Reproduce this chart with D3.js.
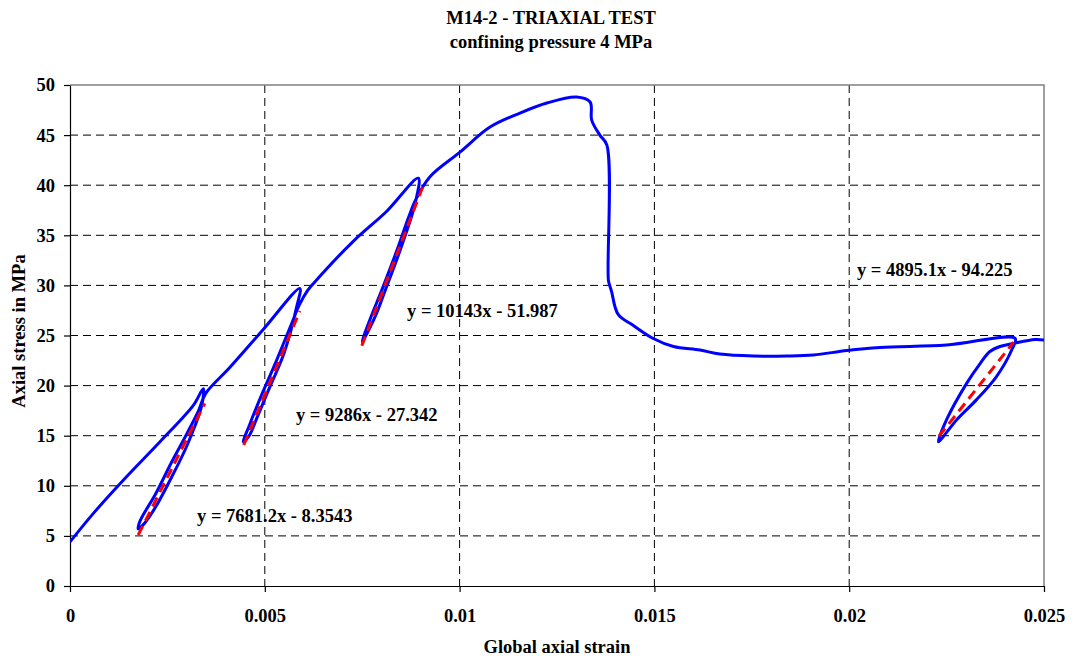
<html>
<head>
<style>
body { margin: 0; background: #fff; }
text { font-family: "Liberation Serif", "Times New Roman", serif; font-weight: bold; }
.grid line { stroke: #000; stroke-dasharray: 8,5; stroke-width: 1; }
.axis path, .axis line { stroke: #000; stroke-width: 1.2; }
.axis text { font-size: 18.5px; fill: #000; }
</style>
</head>
<body>
<div id="vis"></div>
<script src="https://cdn.jsdelivr.net/npm/d3@7"></script>
<script>
// measured curve: [strain, stress]
var strain = [0, 0.0006, 0.00145, 0.00231, 0.00317, 0.00342,
  0.00338, 0.003, 0.0026, 0.0022, 0.0019, 0.00175,
  0.0018, 0.0022, 0.0026, 0.003, 0.0033, 0.00348,
  0.0041, 0.00496, 0.0059,
  0.00582, 0.0055, 0.0051, 0.0048, 0.0046, 0.00445,
  0.0046, 0.0049, 0.0053, 0.0057, 0.00588,
  0.0061, 0.00625, 0.00727, 0.00813, 0.00894,
  0.00886, 0.0085, 0.0081, 0.0078, 0.0075,
  0.0077, 0.008, 0.0084, 0.0087, 0.00888,
  0.00924, 0.01001, 0.01078, 0.01155, 0.01224, 0.013, 0.01335, 0.01339, 0.0136, 0.01378,
  0.01382, 0.01386, 0.0139, 0.01407, 0.01446, 0.01497, 0.01549, 0.01617, 0.01668, 0.01754,
  0.0184, 0.01908, 0.01994, 0.02079, 0.0225, 0.02426,
  0.02417, 0.02378, 0.02327, 0.02276, 0.02229,
  0.0225, 0.02301, 0.02336, 0.02361, 0.02387, 0.02421, 0.02477, 0.025];
var stress = [4.4, 7.25, 10.9, 14.4, 18.06, 19.7,
  18.0, 14.0, 10.8, 7.9, 6.2, 5.7,
  6.5, 9.2, 12.3, 15.2, 17.5, 19.2,
  21.8, 25.6, 29.7,
  27.9, 23.3, 19.6, 16.8, 15.0, 14.4,
  16.0, 18.9, 22.5, 26.3, 28.0,
  29.5, 30.2, 34.4, 37.4, 40.7,
  38.2, 33.8, 29.6, 26.6, 24.4,
  26.6, 29.5, 33.6, 36.9, 38.6,
  40.85, 43.3, 45.8, 47.2, 48.2, 48.8, 48.3, 46.5, 45.0, 44.0,
  30.5, 29.9, 29.4, 27.1, 26.0, 24.7, 23.9, 23.55, 23.15, 22.95,
  22.95, 23.05, 23.5, 23.8, 24.05, 24.7,
  23.55, 20.9, 18.6, 16.6, 14.4,
  16.6, 20.2, 22.2, 23.4, 23.9, 24.2, 24.6, 24.55];

// linear fits of the unload/reload loops
var fitSlope = [7681.2, 9286, 10143, 4895.1];
var fitIntercept = [-8.3543, -27.342, -51.987, -94.225];
var fitFrom = [0.00175, 0.00446, 0.00749, 0.0223];
var fitTo = [0.00346, 0.0059, 0.00906, 0.02422];
var fitLabels = ["y = 7681.2x - 8.3543", "y = 9286x - 27.342", "y = 10143x - 51.987", "y = 4895.1x - 94.225"];
var labelPos = [[0.00326, 6.4], [0.00580, 16.5], [0.00865, 26.85], [0.0202, 30.9]];

var xTicks = [0, 0.005, 0.01, 0.015, 0.02, 0.025];
var yTicks = [0, 5, 10, 15, 20, 25, 30, 35, 40, 45, 50];

var margin = {top: 85, right: 33, bottom: 72, left: 70},
    width = 1077 - margin.left - margin.right,
    height = 658 - margin.top - margin.bottom;

var svg = d3.select("#vis").append("svg")
    .attr("width", 1077)
    .attr("height", 658);

var g = svg.append("g")
    .attr("transform", "translate(" + margin.left + "," + margin.top + ")");

var x = d3.scaleLinear().domain([0, 0.025]).range([0, width]);
var y = d3.scaleLinear().domain([0, 50]).range([height, 0]);

// grid
g.append("g").attr("class", "grid")
  .selectAll("line").data(yTicks.slice(1, -1)).enter().append("line")
    .attr("x1", 0).attr("x2", width)
    .attr("y1", function(d) { return y(d); }).attr("y2", function(d) { return y(d); });
g.append("g").attr("class", "grid")
  .selectAll("line").data(xTicks.slice(1, -1)).enter().append("line")
    .attr("y1", 0).attr("y2", height)
    .attr("x1", function(d) { return x(d); }).attr("x2", function(d) { return x(d); });

// grey frame top and right
g.append("path")
  .attr("d", "M0,0H" + width + "V" + height)
  .attr("fill", "none").attr("stroke", "#808080").attr("stroke-width", 1.5);

// axes
g.append("g").attr("class", "axis")
  .attr("transform", "translate(0," + height + ")")
  .call(d3.axisBottom(x).tickValues(xTicks).tickSize(6).tickSizeOuter(0)
    .tickFormat(function(d) { return d3.format("")(+d.toFixed(3)); }))
  .selectAll("text").attr("y", 23);
g.append("g").attr("class", "axis")
  .call(d3.axisLeft(y).tickValues(yTicks).tickSize(6).tickSizeOuter(0))
  .selectAll("text").attr("x", -15);

// clip
g.append("clipPath").attr("id", "clip").append("rect")
  .attr("width", width).attr("height", height);

var pts = strain.map(function(s, i) { return [s, stress[i]]; });
var line = d3.line()
  .x(function(d) { return x(d[0]); })
  .y(function(d) { return y(d[1]); })
  .curve(d3.curveCatmullRom.alpha(0.5));

g.append("path")
  .datum(pts)
  .attr("clip-path", "url(#clip)")
  .attr("fill", "none")
  .attr("stroke", "#0000ff")
  .attr("stroke-width", 3)
  .attr("stroke-linejoin", "round")
  .attr("d", line);

// trend lines
fitSlope.forEach(function(m, i) {
  var x0 = fitFrom[i], x1 = fitTo[i];
  g.append("line")
    .attr("x1", x(x0)).attr("y1", y(m * x0 + fitIntercept[i]))
    .attr("x2", x(x1)).attr("y2", y(m * x1 + fitIntercept[i]))
    .attr("stroke", "#ff0000")
    .attr("stroke-width", 3)
    .attr("stroke-dasharray", "10,6");
});

g.selectAll(".fitLabel").data(fitLabels).enter().append("text")
  .attr("class", "fitLabel")
  .attr("x", function(d, i) { return x(labelPos[i][0]); })
  .attr("y", function(d, i) { return y(labelPos[i][1]); })
  .attr("font-size", "18.5px")
  .text(function(d) { return d; });

// titles
svg.append("text").attr("x", 551).attr("y", 24).attr("text-anchor", "middle")
  .attr("font-size", "18.5px").text("M14-2 - TRIAXIAL TEST");
svg.append("text").attr("x", 551).attr("y", 48).attr("text-anchor", "middle")
  .attr("font-size", "18.5px").text("confining pressure 4 MPa");
svg.append("text").attr("x", 557).attr("y", 653).attr("text-anchor", "middle")
  .attr("font-size", "18.5px").text("Global axial strain");
svg.append("text")
  .attr("transform", "translate(25,331) rotate(-90)")
  .attr("text-anchor", "middle")
  .attr("font-size", "18.5px").text("Axial stress in MPa");
</script>
</body>
</html>
